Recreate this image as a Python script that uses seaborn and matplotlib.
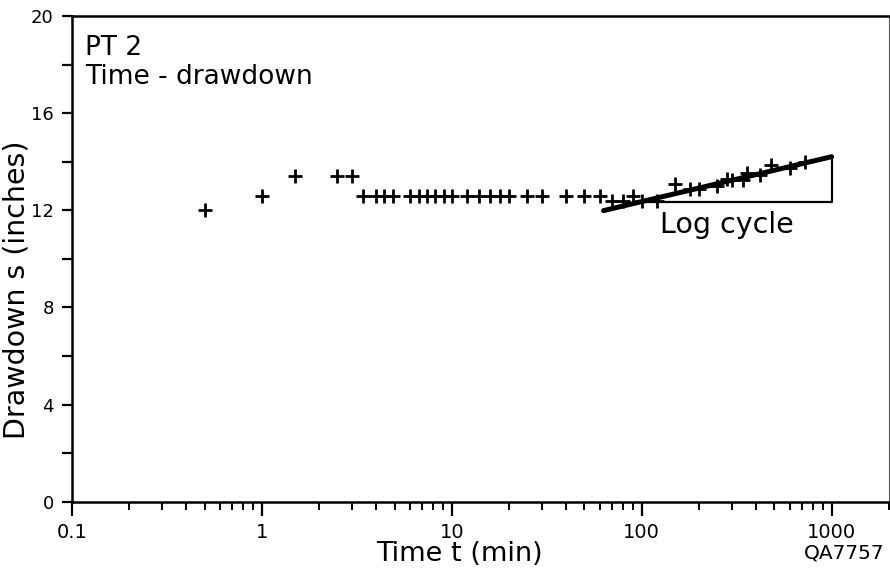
import numpy as np
import pandas as pd
import matplotlib
matplotlib.use("Agg")
import matplotlib.pyplot as plt
import seaborn as sns
from matplotlib.ticker import FixedLocator, NullFormatter

# ---- data ----
time_min = [0.5, 1, 1.5, 2.5, 3, 3.4, 4, 4.4, 4.9, 6, 6.7, 7.4, 8.2, 9.1, 10,
            12, 14, 16, 18, 20, 25, 30, 40, 50, 60, 70, 80, 90, 100, 120,
            150, 180, 200, 250, 280, 300, 340, 360, 420, 480, 600, 720]
drawdown_in = [12.0, 12.6, 13.4, 13.4, 13.4, 12.6, 12.6, 12.6, 12.6, 12.6, 12.6,
               12.6, 12.6, 12.6, 12.6, 12.6, 12.6, 12.6, 12.6, 12.6, 12.6, 12.6,
               12.6, 12.6, 12.6, 12.4, 12.4, 12.6, 12.4, 12.4, 13.1, 12.9, 12.9,
               13.0, 13.3, 13.25, 13.25, 13.55, 13.45, 13.85, 13.75, 14.0]

fit_t = [63, 1000]
fit_s = [11.99, 14.21]
tri_t = [100, 1000, 1000]
tri_s = [12.36, 12.36, 14.21]

x_major = [0.1, 1, 10, 100, 1000]
x_major_labels = ["0.1", "1", "10", "100", "1000"]
y_major = [0, 4, 8, 12, 16, 20]

df = pd.DataFrame({"t": time_min, "s": drawdown_in})

sns.set_theme(style="white")
plt.rcParams["font.family"] = ["DejaVu Sans"]
plt.rcParams["text.color"] = "black"
plt.rcParams["axes.labelcolor"] = "black"
plt.rcParams["xtick.color"] = "black"
plt.rcParams["ytick.color"] = "black"

fig = plt.figure(figsize=(8.9, 5.76), dpi=100)
ax = fig.add_axes([0.0806, 0.129, 0.9181, 0.843])

sns.scatterplot(data=df, x="t", y="s", marker="+", s=110, color="black",
                linewidth=2.0, ax=ax, legend=False, zorder=3)
sns.lineplot(x=fit_t, y=fit_s, color="black", linewidth=3.6, ax=ax,
             legend=False, zorder=4)
ax.plot(tri_t, tri_s, color="black", linewidth=1.6, zorder=2)

ax.set_xscale("log")
ax.set_xlim(0.1, 2000)
ax.set_ylim(0, 20)

ax.xaxis.set_major_locator(FixedLocator(x_major))
ax.set_xticklabels(x_major_labels)
minors = [m * 10.0 ** e for e in range(-1, 4) for m in range(2, 10) if m * 10.0 ** e <= 2000]
ax.xaxis.set_minor_locator(FixedLocator(minors))
ax.xaxis.set_minor_formatter(NullFormatter())

ax.yaxis.set_major_locator(FixedLocator(y_major))
ax.yaxis.set_minor_locator(FixedLocator([2, 6, 10, 14, 18]))
ax.yaxis.set_minor_formatter(NullFormatter())

ax.tick_params(axis="x", which="major", direction="out", length=10, width=1.6,
               labelsize=14, pad=5, color="black", bottom=True)
ax.tick_params(axis="x", which="minor", direction="out", length=6, width=1.4,
               color="black", bottom=True)
ax.tick_params(axis="y", which="both", direction="out", length=7, width=1.6,
               labelsize=13, pad=6, color="black", left=True)

for side in ["left", "bottom", "top"]:
    ax.spines[side].set_linewidth(1.8)
    ax.spines[side].set_color("black")
ax.spines["right"].set_linewidth(0.8)
ax.spines["right"].set_color("#555555")

ax.set_xlabel("Time t (min)", fontsize=19.5)
ax.set_ylabel("Drawdown s (inches)", fontsize=20.5)
ax.xaxis.set_label_coords(0.475, -0.081)
ax.yaxis.set_label_coords(-0.05, 0.436)

ax.text(0.016, 0.962, "PT 2", transform=ax.transAxes, fontsize=19,
        va="top", ha="left")
ax.text(0.016, 0.902, "Time - drawdown", transform=ax.transAxes, fontsize=19,
        va="top", ha="left")
ax.text(281, 11.4, "Log cycle", fontsize=20.5, ha="center", va="center")
fig.text(0.949, 0.04, "QA7757", fontsize=14.5, ha="center", va="center")

ax.grid(False)
fig.savefig("out.png", dpi=100, facecolor="white")
